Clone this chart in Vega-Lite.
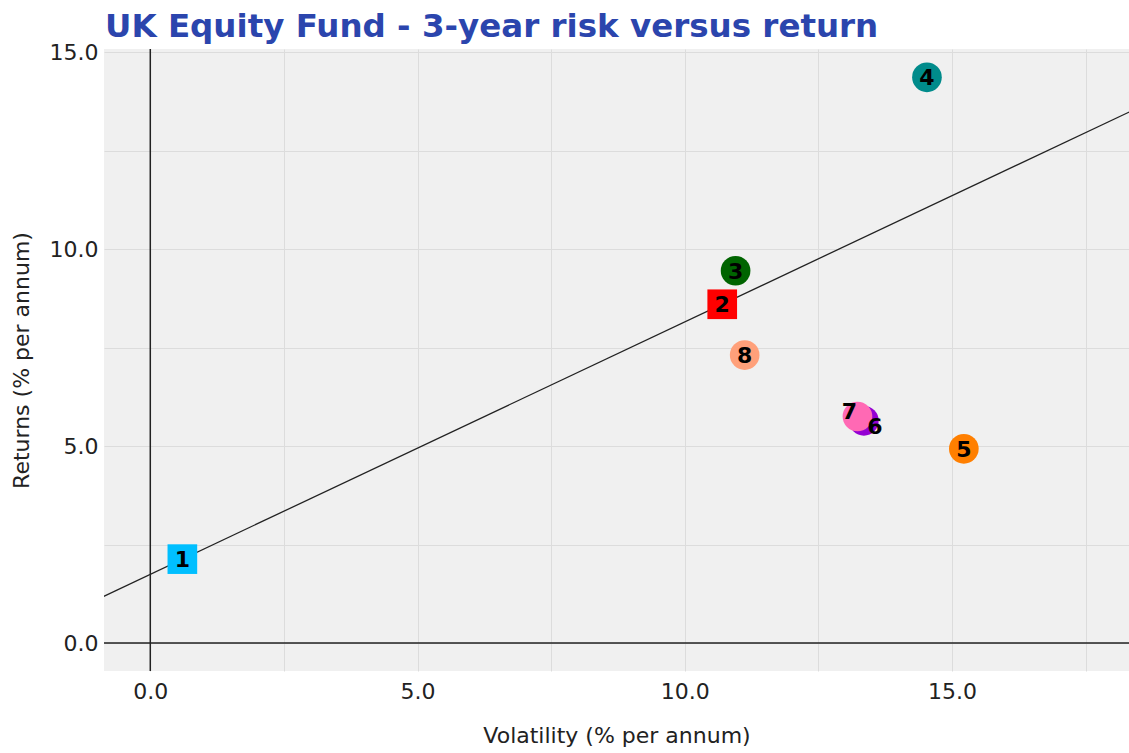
{
  "$schema": "https://vega.github.io/schema/vega-lite/v6.json",
  "width": 1025,
  "height": 622,
  "autosize": {"type": "none"},
  "padding": {"left": 104, "top": 49, "right": 0, "bottom": 82},
  "background": "white",
  "config": {
    "view": {"fill": "#f0f0f0", "stroke": null},
    "font": "DejaVu Sans"
  },
  "title": {
    "text": "UK Equity Fund - 3-year risk versus return",
    "anchor": "start",
    "frame": "group",
    "color": "#2b45ad",
    "fontSize": 32.5,
    "fontWeight": "bold",
    "font": "DejaVu Sans",
    "baseline": "bottom",
    "offset": -3,
    "dy": 32,
    "dx": 1
  },
  "datasets": {
    "funds": [
      {"id": "1", "vol": 0.60, "ret": 2.13, "shape": "square"},
      {"id": "2", "vol": 10.70, "ret": 8.60, "shape": "square"},
      {"id": "3", "vol": 10.95, "ret": 9.45, "shape": "circle"},
      {"id": "4", "vol": 14.53, "ret": 14.36, "shape": "circle"},
      {"id": "5", "vol": 15.22, "ret": 4.93, "shape": "circle"},
      {"id": "6", "vol": 13.35, "ret": 5.64, "shape": "circle"},
      {"id": "7", "vol": 13.23, "ret": 5.75, "shape": "circle"},
      {"id": "8", "vol": 11.12, "ret": 7.31, "shape": "circle"}
    ],
    "cml": [
      {"vol": -1.0, "ret": 1.104},
      {"vol": 19.0, "ret": 13.92}
    ]
  },
  "encoding": {
    "x": {
      "field": "vol",
      "type": "quantitative",
      "scale": {"domain": [-0.866, 18.31], "nice": false, "zero": false},
      "axis": {
        "title": "Volatility (% per annum)",
        "values": [0, 2.5, 5, 7.5, 10, 12.5, 15, 17.5],
        "labelExpr": "datum.value % 5 == 0 ? format(datum.value, '.1f') : ''",
        "domain": false,
        "ticks": false,
        "grid": true,
        "gridColor": "#dcdcdc",
        "gridWidth": 1,
        "labelFontSize": 22,
        "labelColor": "#222222",
        "labelPadding": 10,
        "titleFontSize": 22,
        "titleFontWeight": "normal",
        "titleColor": "#222222",
        "titlePadding": 23,
        "labelFlush": false
      }
    },
    "y": {
      "field": "ret",
      "type": "quantitative",
      "scale": {"domain": [-0.71, 15.08], "nice": false, "zero": false},
      "axis": {
        "title": "Returns (% per annum)",
        "values": [0, 2.5, 5, 7.5, 10, 12.5, 15],
        "labelExpr": "datum.value % 5 == 0 ? format(datum.value, '.1f') : ''",
        "domain": false,
        "ticks": false,
        "grid": true,
        "gridColor": "#dcdcdc",
        "gridWidth": 1,
        "labelFontSize": 22,
        "labelColor": "#222222",
        "labelPadding": 6,
        "titleFontSize": 22,
        "titleFontWeight": "normal",
        "titleColor": "#222222",
        "titlePadding": 16,
        "labelFlush": false
      }
    }
  },
  "layer": [
    {
      "data": {"values": [{"z": 0}]},
      "mark": {"type": "rule", "color": "#222222", "strokeWidth": 1.5},
      "encoding": {"x": {"field": "z", "type": "quantitative"}, "y": null}
    },
    {
      "data": {"values": [{"z": 0}]},
      "mark": {"type": "rule", "color": "#222222", "strokeWidth": 1.5},
      "encoding": {"y": {"field": "z", "type": "quantitative"}, "x": null}
    },
    {
      "data": {"name": "cml"},
      "mark": {"type": "line", "color": "#222222", "strokeWidth": 1.3, "clip": true},
      "encoding": {}
    },
    {
      "data": {"name": "funds"},
      "mark": {"type": "point", "filled": true, "opacity": 1, "size": 880},
      "encoding": {
        "shape": {"field": "shape", "type": "nominal", "scale": {"domain": ["circle", "square"], "range": ["circle", "square"]}, "legend": null},
        "color": {
          "field": "id",
          "type": "nominal",
          "scale": {
            "domain": ["1", "2", "3", "4", "5", "6", "7", "8"],
            "range": ["#00bfff", "#ff0000", "#006400", "#008b8b", "#ff7f00", "#9400d3", "#ff69b4", "#ffa07a"]
          },
          "legend": null
        },
        "order": {"field": "id", "type": "ordinal"}
      }
    },
    {
      "data": {"name": "funds"},
      "transform": [{"filter": "datum.id != '6' && datum.id != '7'"}],
      "mark": {"type": "text", "fontSize": 22, "fontWeight": "bold", "color": "#000000", "baseline": "middle", "align": "center", "dy": 1},
      "encoding": {"text": {"field": "id"}}
    },
    {
      "data": {"name": "funds"},
      "transform": [{"filter": "datum.id == '6'"}],
      "mark": {"type": "text", "fontSize": 22, "fontWeight": "bold", "color": "#000000", "baseline": "middle", "align": "center", "dx": 11, "dy": 6},
      "encoding": {"text": {"field": "id"}}
    },
    {
      "data": {"name": "funds"},
      "transform": [{"filter": "datum.id == '7'"}],
      "mark": {"type": "text", "fontSize": 22, "fontWeight": "bold", "color": "#000000", "baseline": "middle", "align": "center", "dx": -8, "dy": -5},
      "encoding": {"text": {"field": "id"}}
    }
  ]
}
